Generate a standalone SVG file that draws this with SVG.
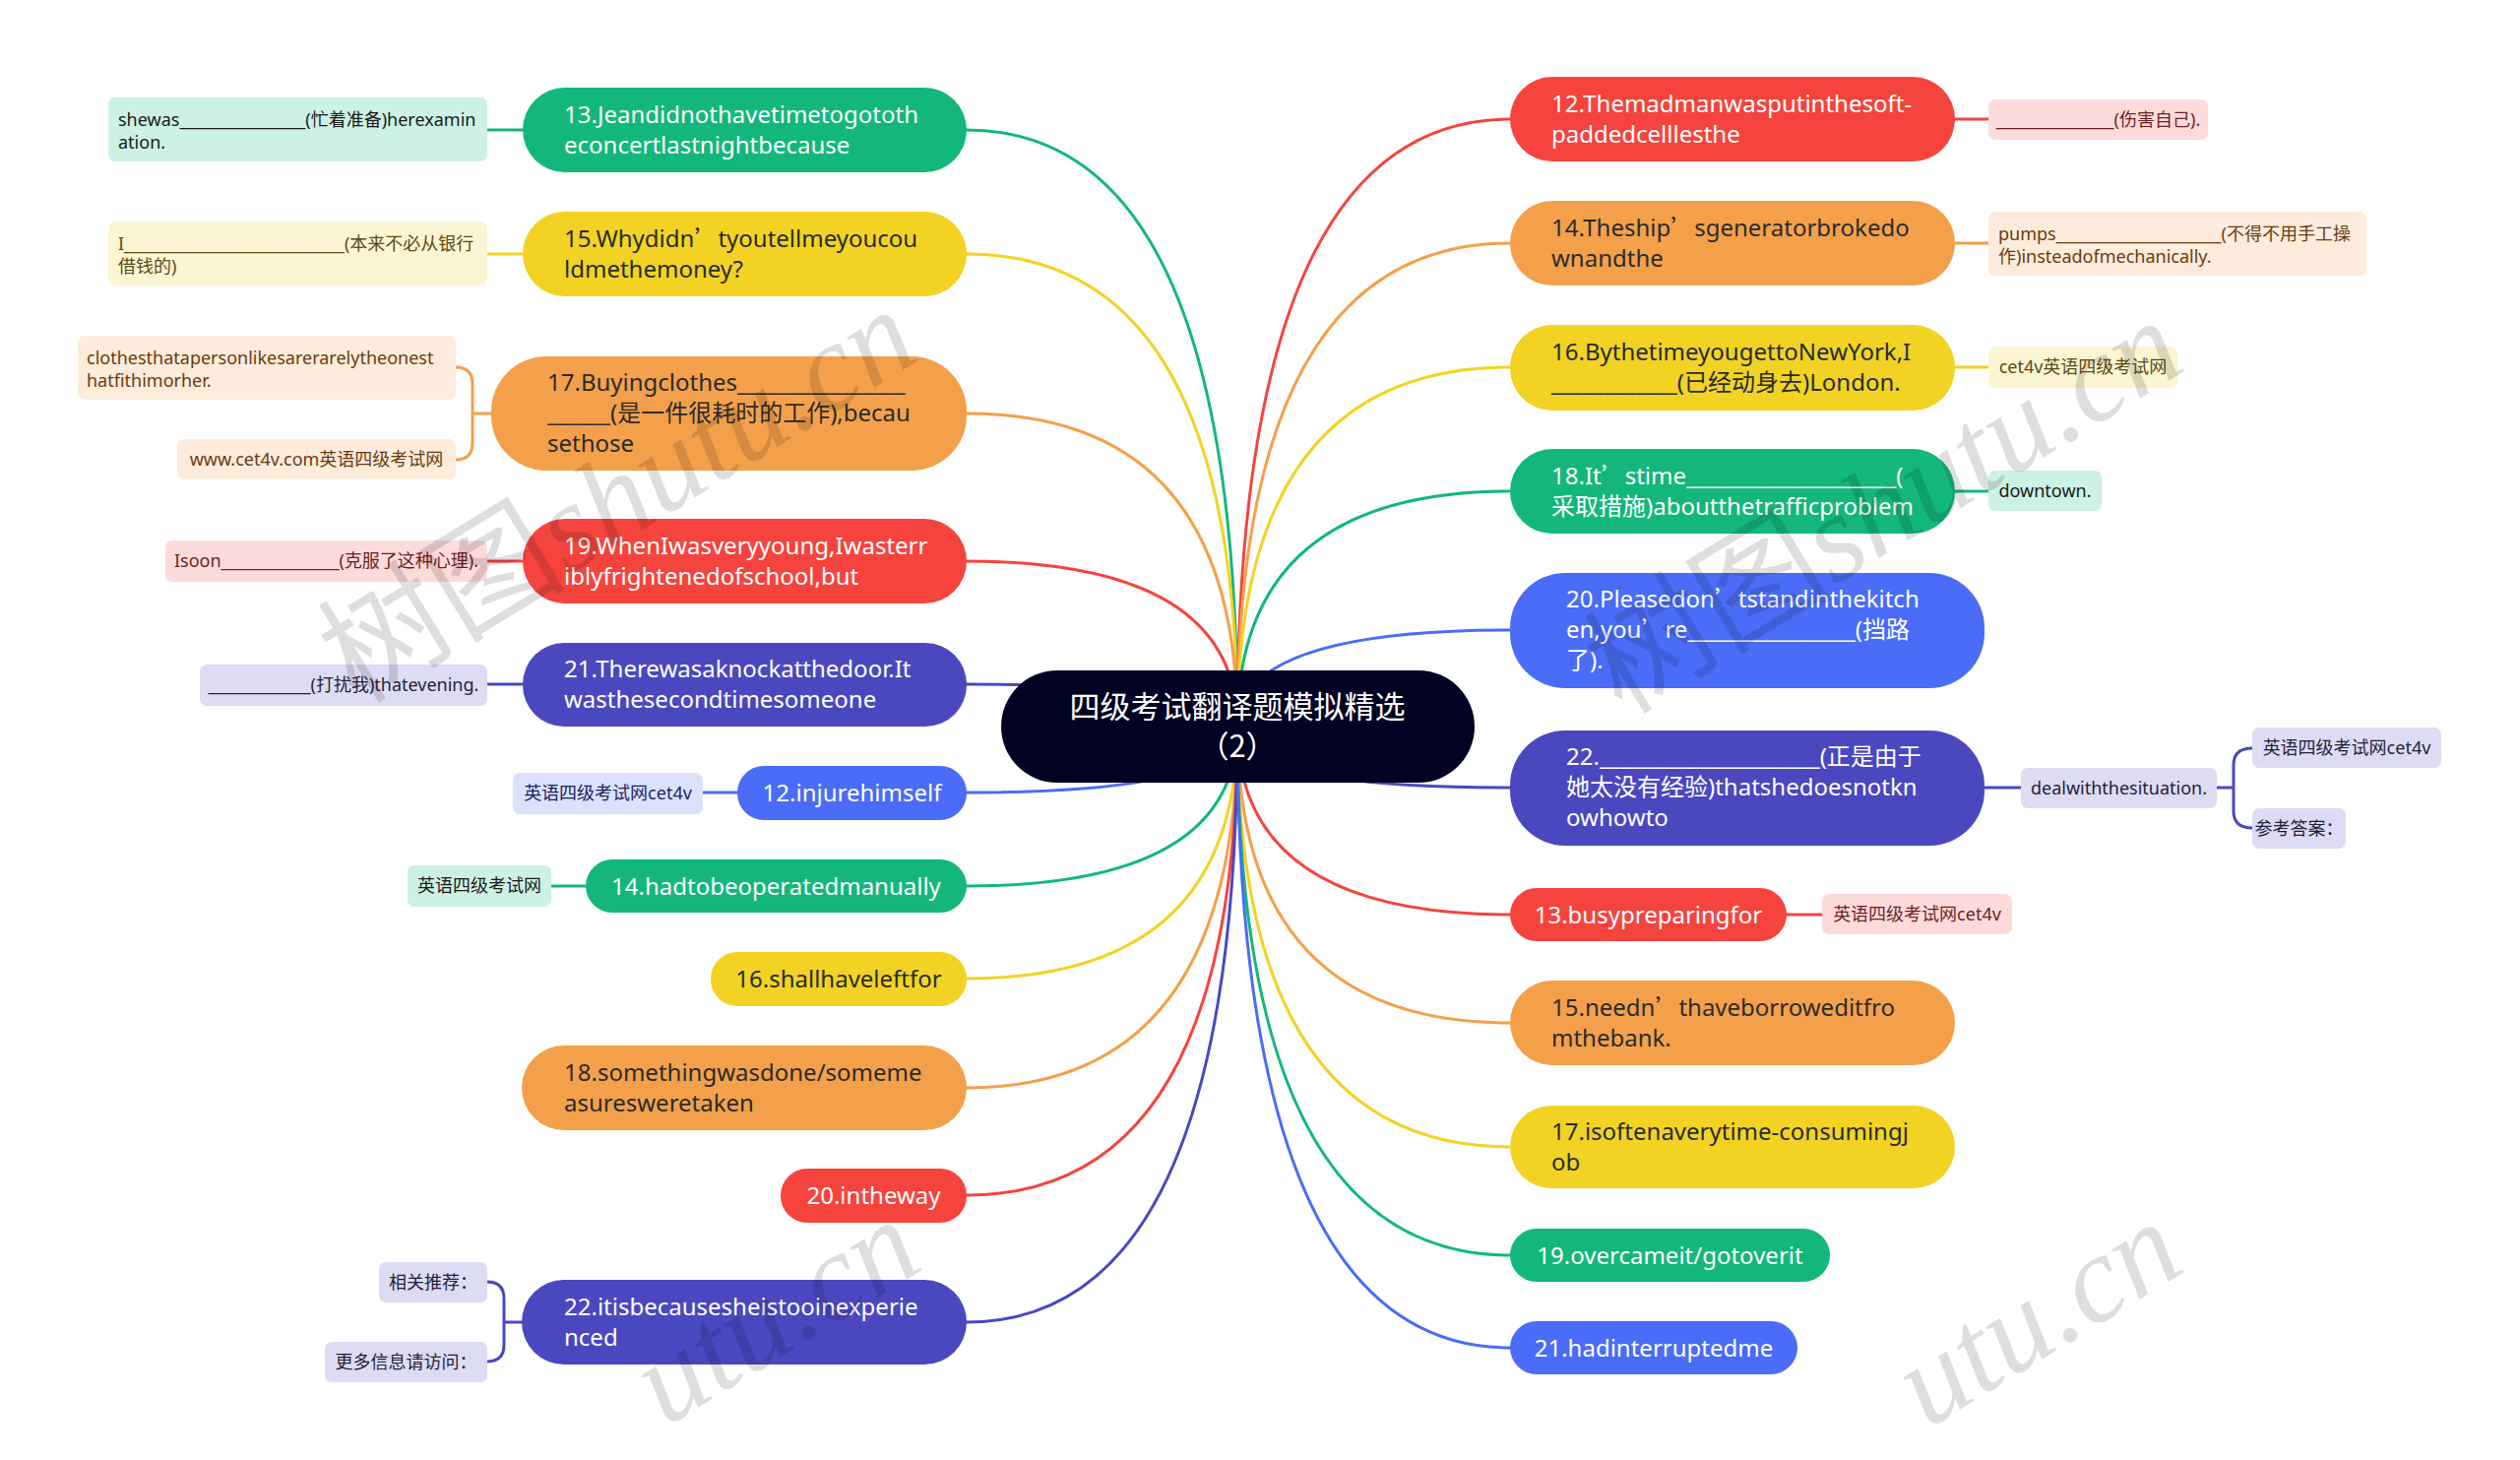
<svg xmlns="http://www.w3.org/2000/svg" width="2560" height="1483" viewBox="0 0 2560 1483">
<style>
text{font-family:'Noto Sans','Noto Sans CJK SC',sans-serif;}
.cj{font-family:'Noto Sans CJK SC','Noto Sans',sans-serif;}
.m{font-size:24px;}
.w{fill:#ffffff;}
.d{fill:#2b2b2b;}
.lf{font-size:18px;}
.c{stroke-width:3;fill:none;stroke-linecap:round;}
.gr{fill:#13b77c;} .ye{fill:#f2d324;} .or{fill:#f4a04a;} .re{fill:#f5443e;} .pu{fill:#4b48bf;} .bl{fill:#4a6cf6;}
.lgr{fill:#cdf1e4;} .lye{fill:#fcf5d3;} .lor{fill:#fdebdb;} .lre{fill:#fddbdb;} .lpu{fill:#dedcf2;} .lbl{fill:#dbe2fd;}
.tgr{fill:#1a1a1a;} .tye{fill:#5b4a12;} .tor{fill:#6a3b12;} .tre{fill:#6e1f1f;} .tpu{fill:#1f1f3a;} .tbl{fill:#1c2461;}
.sgr{stroke:#13b77c;} .sye{stroke:#f2d324;} .sor{stroke:#f4a04a;} .sre{stroke:#f5443e;} .spu{stroke:#4b48bf;} .sbl{stroke:#4a6cf6;}
.wm{fill:#000;fill-opacity:0.13;font-size:126px;}
.wmi{font-family:'Liberation Serif',serif;font-style:italic;}
</style>
<rect width="2560" height="1483" fill="#ffffff"/>

<g id="connectors">
<path class="c sgr" d="M1257 738 Q1257 132 982 132"/>
<path class="c sye" d="M1257 738 Q1257 258 982 258"/>
<path class="c sor" d="M1257 738 Q1257 420 982 420"/>
<path class="c sre" d="M1257 738 Q1257 570 982 570"/>
<path class="c spu" d="M1257 738 Q1257 695 982 695"/>
<path class="c sbl" d="M1257 738 Q1257 805 982 805"/>
<path class="c sgr" d="M1257 738 Q1257 900 982 900"/>
<path class="c sye" d="M1257 738 Q1257 994 982 994"/>
<path class="c sor" d="M1257 738 Q1257 1105 982 1105"/>
<path class="c sre" d="M1257 738 Q1257 1214 982 1214"/>
<path class="c spu" d="M1257 738 Q1257 1343 982 1343"/>
<path class="c sre" d="M1257 738 Q1257 121 1534 121"/>
<path class="c sor" d="M1257 738 Q1257 247 1534 247"/>
<path class="c sye" d="M1257 738 Q1257 373 1534 373"/>
<path class="c sgr" d="M1257 738 Q1257 499 1534 499"/>
<path class="c sbl" d="M1257 738 Q1257 640 1534 640"/>
<path class="c spu" d="M1257 738 Q1257 800 1534 800"/>
<path class="c sre" d="M1257 738 Q1257 929 1534 929"/>
<path class="c sor" d="M1257 738 Q1257 1039 1534 1039"/>
<path class="c sye" d="M1257 738 Q1257 1165 1534 1165"/>
<path class="c sgr" d="M1257 738 Q1257 1275 1534 1275"/>
<path class="c sbl" d="M1257 738 Q1257 1369 1534 1369"/>
<path class="c sgr" d="M531 132 H495"/>
<path class="c sye" d="M531 258 H495"/>
<path class="c sor" d="M499 420 H480 M463 373 Q480 373 480 390 V450 Q480 467 463 467"/>
<path class="c sre" d="M531 570 H495"/>
<path class="c spu" d="M531 695 H495"/>
<path class="c sbl" d="M749 805 H714"/>
<path class="c sgr" d="M595 900 H560"/>
<path class="c spu" d="M530 1343 H512 M495 1302 Q512 1302 512 1319 V1366 Q512 1383 495 1383"/>
<path class="c sre" d="M1986 121 H2020"/>
<path class="c sor" d="M1986 247 H2020"/>
<path class="c sye" d="M1986 373 H2020"/>
<path class="c sgr" d="M1986 499 H2020"/>
<path class="c spu" d="M2016 800 H2053 M2252 800 H2269 M2288 760 Q2269 760 2269 777 V824 Q2269 841 2288 841"/>
<path class="c sre" d="M1815 929 H1851"/>
</g>

<g id="root">
<rect x="1017" y="681" width="481" height="114" rx="57" fill="#020223"/>
<text class="cj" x="1257" y="729" font-size="31" fill="#ffffff" text-anchor="middle">四级考试翻译题模拟精选</text>
<text class="cj" x="1257" y="769" font-size="31" fill="#ffffff" text-anchor="middle">（2）</text>
</g>

<g id="L1"><rect class="gr" x="531" y="89" width="451" height="86" rx="43"/>
<text class="m w" x="573" y="125">13.Jeandidnothavetimetogototh</text><text class="m w" x="573" y="156">econcertlastnightbecause</text></g>
<g id="L1a"><rect class="lgr" x="110" y="99" width="385" height="65" rx="7"/>
<text class="lf tgr" x="120" y="128">shewas________________(忙着准备)herexamin</text><text class="lf tgr" x="120" y="151">ation.</text></g>

<g id="L2"><rect class="ye" x="531" y="215" width="451" height="86" rx="43"/>
<text class="m d" x="573" y="251">15.Whydidn<tspan class="cj">’</tspan>tyoutellmeyoucou</text><text class="m d" x="573" y="282">ldmethemoney?</text></g>
<g id="L2a"><rect class="lye" x="110" y="225" width="385" height="65" rx="7"/>
<text class="lf tye" x="120" y="254">I____________________________(本来不必从银行</text><text class="lf tye" x="120" y="277">借钱的)</text></g>

<g id="L3"><rect class="or" x="499" y="362" width="483" height="116" rx="56"/>
<text class="m d" x="556" y="397">17.Buyingclothes________________</text><text class="m d" x="556" y="428">______(是一件很耗时的工作),becau</text><text class="m d" x="556" y="459">sethose</text></g>
<g id="L3a"><rect class="lor" x="79" y="341" width="384" height="65" rx="7"/>
<text class="lf tor" x="88" y="370">clothesthatapersonlikesarerarelytheonest</text><text class="lf tor" x="88" y="393">hatfithimorher.</text></g>
<g id="L3b"><rect class="lor" x="180" y="446" width="283" height="41" rx="7"/>
<text class="lf tor" x="321.5" y="473" text-anchor="middle">www.cet4v.com英语四级考试网</text></g>

<g id="L4"><rect class="re" x="531" y="527" width="451" height="86" rx="43"/>
<text class="m w" x="573" y="563">19.WhenIwasveryyoung,Iwasterr</text><text class="m w" x="573" y="594">iblyfrightenedofschool,but</text></g>
<g id="L4a"><rect class="lre" x="168" y="549" width="327" height="42" rx="7"/>
<text class="lf tre" x="331.5" y="576" text-anchor="middle">Isoon_______________(克服了这种心理).</text></g>

<g id="L5"><rect class="pu" x="531" y="653" width="451" height="85" rx="42"/>
<text class="m w" x="573" y="688">21.Therewasaknockatthedoor.It</text><text class="m w" x="573" y="719">wasthesecondtimesomeone</text></g>
<g id="L5a"><rect class="lpu" x="203" y="675" width="292" height="42" rx="7"/>
<text class="lf tpu" x="349" y="702" text-anchor="middle">_____________(打扰我)thatevening.</text></g>

<g id="L6"><rect class="bl" x="749" y="778" width="233" height="55" rx="27"/>
<text class="m w" x="865.5" y="814" text-anchor="middle">12.injurehimself</text></g>
<g id="L6a"><rect class="lbl" x="521" y="785" width="193" height="42" rx="7"/>
<text class="lf tbl" x="617.5" y="812" text-anchor="middle">英语四级考试网cet4v</text></g>

<g id="L7"><rect class="gr" x="595" y="873" width="387" height="54" rx="27"/>
<text class="m w" x="788.5" y="909" text-anchor="middle">14.hadtobeoperatedmanually</text></g>
<g id="L7a"><rect class="lgr" x="414" y="879" width="146" height="42" rx="7"/>
<text class="lf tgr" x="487" y="906" text-anchor="middle">英语四级考试网</text></g>

<g id="L8"><rect class="ye" x="722" y="967" width="260" height="55" rx="27"/>
<text class="m d" x="852" y="1003" text-anchor="middle">16.shallhaveleftfor</text></g>

<g id="L9"><rect class="or" x="530" y="1062" width="452" height="86" rx="43"/>
<text class="m d" x="573" y="1098">18.somethingwasdone/someme</text><text class="m d" x="573" y="1129">asuresweretaken</text></g>

<g id="L10"><rect class="re" x="793" y="1187" width="189" height="55" rx="27"/>
<text class="m w" x="887.5" y="1223" text-anchor="middle">20.intheway</text></g>

<g id="L11"><rect class="pu" x="530" y="1300" width="452" height="86" rx="43"/>
<text class="m w" x="573" y="1336">22.itisbecausesheistooinexperie</text><text class="m w" x="573" y="1367">nced</text></g>
<g id="L11a"><rect class="lpu" x="385" y="1282" width="110" height="41" rx="7"/>
<text class="lf tpu" x="440" y="1309" text-anchor="middle">相关推荐：</text></g>
<g id="L11b"><rect class="lpu" x="330" y="1363" width="165" height="41" rx="7"/>
<text class="lf tpu" x="412.5" y="1390" text-anchor="middle">更多信息请访问：</text></g>

<g id="R1"><rect class="re" x="1534" y="78" width="452" height="86" rx="43"/>
<text class="m w" x="1576" y="114">12.Themadmanwasputinthesoft-</text><text class="m w" x="1576" y="145">paddedcelllesthe</text></g>
<g id="R1a"><rect class="lre" x="2020" y="101" width="223" height="41" rx="7"/>
<text class="lf tre" x="2131.5" y="128" text-anchor="middle">_______________(伤害自己).</text></g>

<g id="R2"><rect class="or" x="1534" y="204" width="452" height="86" rx="43"/>
<text class="m d" x="1576" y="240">14.Theship<tspan class="cj">’</tspan>sgeneratorbrokedo</text><text class="m d" x="1576" y="271">wnandthe</text></g>
<g id="R2a"><rect class="lor" x="2020" y="215" width="384" height="65" rx="7"/>
<text class="lf tor" x="2030" y="244">pumps_____________________(不得不用手工操</text><text class="lf tor" x="2030" y="267">作)insteadofmechanically.</text></g>

<g id="R3"><rect class="ye" x="1534" y="330" width="452" height="87" rx="43"/>
<text class="m d" x="1576" y="366">16.BythetimeyougettoNewYork,I</text><text class="m d" x="1576" y="397">____________(已经动身去)London.</text></g>
<g id="R3a"><rect class="lye" x="2020" y="352" width="192" height="42" rx="7"/>
<text class="lf tye" x="2116" y="379" text-anchor="middle">cet4v英语四级考试网</text></g>

<g id="R4"><rect class="gr" x="1534" y="456" width="452" height="86" rx="43"/>
<text class="m w" x="1576" y="492">18.It<tspan class="cj">’</tspan>stime____________________(</text><text class="m w" x="1576" y="523">采取措施)aboutthetrafficproblem</text></g>
<g id="R4a"><rect class="lgr" x="2020" y="478" width="115" height="41" rx="7"/>
<text class="lf tgr" x="2077.5" y="505" text-anchor="middle">downtown.</text></g>

<g id="R5"><rect class="bl" x="1534" y="582" width="482" height="117" rx="56"/>
<text class="m w" x="1591" y="617">20.Pleasedon<tspan class="cj">’</tspan>tstandinthekitch</text><text class="m w" x="1591" y="648">en,you<tspan class="cj">’</tspan>re________________(挡路</text><text class="m w" x="1591" y="679">了).</text></g>

<g id="R6"><rect class="pu" x="1534" y="742" width="482" height="117" rx="56"/>
<text class="m w" x="1591" y="777">22._____________________(正是由于</text><text class="m w" x="1591" y="808">她太没有经验)thatshedoesnotkn</text><text class="m w" x="1591" y="839">owhowto</text></g>
<g id="R6a"><rect class="lpu" x="2053" y="780" width="199" height="41" rx="7"/>
<text class="lf tpu" x="2152.5" y="807" text-anchor="middle">dealwiththesituation.</text></g>
<g id="R6b"><rect class="lpu" x="2288" y="739" width="192" height="41" rx="7"/>
<text class="lf tpu" x="2384" y="766" text-anchor="middle">英语四级考试网cet4v</text></g>
<g id="R6c"><rect class="lpu" x="2288" y="821" width="95" height="41" rx="7"/>
<text class="lf tpu" x="2335.5" y="848" text-anchor="middle">参考答案：</text></g>

<g id="R7"><rect class="re" x="1534" y="902" width="281" height="54" rx="27"/>
<text class="m w" x="1674.5" y="938" text-anchor="middle">13.busypreparingfor</text></g>
<g id="R7a"><rect class="lre" x="1851" y="908" width="193" height="41" rx="7"/>
<text class="lf tre" x="1947.5" y="935" text-anchor="middle">英语四级考试网cet4v</text></g>

<g id="R8"><rect class="or" x="1534" y="996" width="452" height="86" rx="43"/>
<text class="m d" x="1576" y="1032">15.needn<tspan class="cj">’</tspan>thaveborroweditfro</text><text class="m d" x="1576" y="1063">mthebank.</text></g>

<g id="R9"><rect class="ye" x="1534" y="1123" width="452" height="84" rx="42"/>
<text class="m d" x="1576" y="1158">17.isoftenaverytime-consumingj</text><text class="m d" x="1576" y="1189">ob</text></g>

<g id="R10"><rect class="gr" x="1534" y="1248" width="325" height="54" rx="27"/>
<text class="m w" x="1696.5" y="1284" text-anchor="middle">19.overcameit/gotoverit</text></g>

<g id="R11"><rect class="bl" x="1534" y="1342" width="292" height="54" rx="27"/>
<text class="m w" x="1680" y="1378" text-anchor="middle">21.hadinterruptedme</text></g>

<g id="watermark">
<text class="wm" transform="translate(362 716) rotate(-31.5)">树图<tspan class="wmi">shutu.cn</tspan></text>
<text class="wm" transform="translate(1648 727) rotate(-31.5)">树图<tspan class="wmi">shutu.cn</tspan></text>
<text class="wm wmi" transform="translate(676 1450) rotate(-31.5)">utu.cn</text>
<text class="wm wmi" transform="translate(1958 1452) rotate(-31.5)">utu.cn</text>
</g>
</svg>
